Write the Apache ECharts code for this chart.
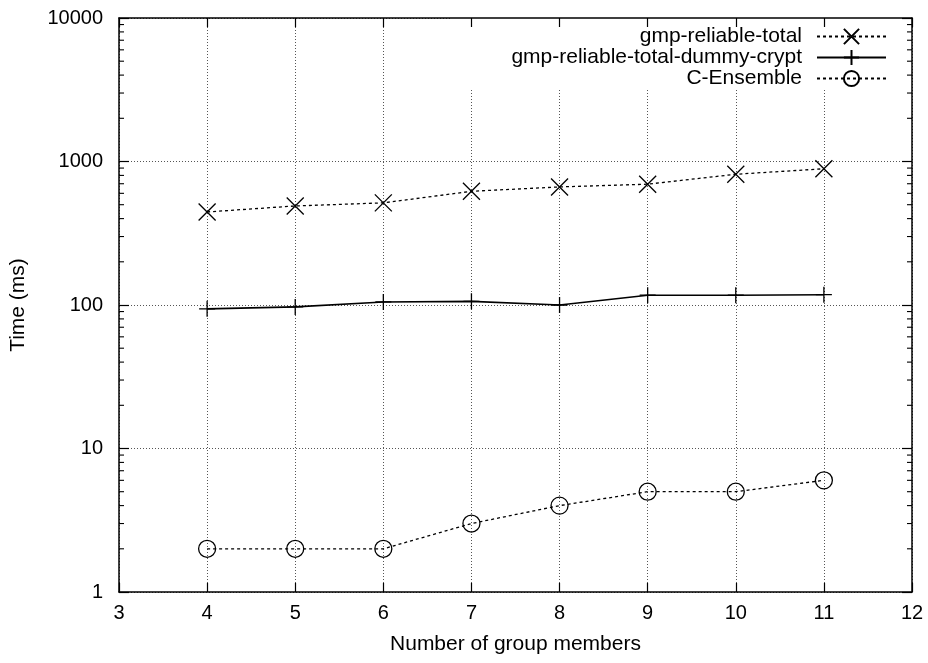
<!DOCTYPE html>
<html>
<head>
<meta charset="utf-8">
<script src="https://cdn.jsdelivr.net/npm/echarts@6/dist/echarts.min.js"></script>
<style>
  html, body { margin: 0; padding: 0; background: #fff; }
  #chart { width: 928px; height: 663px; }
</style>
</head>
<body>
<div id="chart"></div>
<script>
// Group size vs. time per protocol variant
const groupMembers = [4, 5, 6, 7, 8, 9, 10, 11];
const reliableTotal = [445, 490, 515, 620, 665, 695, 815, 890];
const reliableTotalDummyCrypt = [94, 97, 105, 106, 100, 117, 117, 118];
const cEnsemble = [2, 2, 2, 3, 4, 5, 5, 6];
const seriesNames = ['gmp-reliable-total', 'gmp-reliable-total-dummy-crypt', 'C-Ensemble'];
const xTicks = [3, 4, 5, 6, 7, 8, 9, 10, 11, 12];
const yDecades = [1, 10, 100, 1000, 10000];

const FONT = 'Liberation Sans, Arial, sans-serif';
const FS = 21;
const FS_TICK = 20;

// Minor log ticks (2..9 within each decade)
const minorTicks = [];
for (let d = 0; d < yDecades.length - 1; d++) {
  for (let m = 2; m <= 9; m++) minorTicks.push(yDecades[d] * m);
}

const pairs = (ys) => groupMembers.map((x, i) => [x, ys[i]]);

const crossPath = 'path://M0,0L10,10M10,0L0,10';
const plusPath = 'path://M5,0L5,10M0,5L10,5';

const gridLine = { show: true, lineStyle: { color: '#555', width: 1, type: [1, 2] } };

const chart = echarts.init(document.getElementById('chart'), null, { renderer: 'canvas' });
chart.setOption({
  animation: false,
  backgroundColor: '#fff',
  grid: { left: 119, right: 16, top: 18, bottom: 71 },
  legend: {
    orient: 'vertical',
    right: 23,
    top: 18,
    align: 'right',
    data: seriesNames,
    itemWidth: 69,
    itemHeight: 19,
    itemGap: 0,
    padding: [8, 18, 0, 61],
    backgroundColor: '#fff',
    z: 4,
    textStyle: { fontFamily: FONT, fontSize: FS, color: '#000', lineHeight: 21, padding: [0, 10, 0, 0] },
    inactiveColor: '#000'
  },
  xAxis: [
    {
      type: 'value', position: 'bottom', min: 3, max: 12, interval: 1,
      name: 'Number of group members', nameLocation: 'middle', nameGap: 42,
      nameTextStyle: { fontFamily: FONT, fontSize: FS, color: '#000' },
      axisLine: { show: true, lineStyle: { color: '#000', width: 1.5 } },
      axisTick: { show: true, inside: true, length: 9, lineStyle: { color: '#000', width: 1.2 } },
      axisLabel: { fontFamily: FONT, fontSize: FS_TICK, color: '#000', margin: 11,
        formatter: (v) => xTicks.includes(v) ? String(v) : '' },
      splitLine: gridLine,
      z: 0
    },
    {
      type: 'value', position: 'top', min: 3, max: 12, interval: 1,
      axisLine: { show: true, lineStyle: { color: '#000', width: 1.5 } },
      axisTick: { show: true, inside: true, length: 9, lineStyle: { color: '#000', width: 1.2 } },
      axisLabel: { show: false },
      splitLine: { show: false },
      z: 10
    }
  ],
  yAxis: [
    {
      type: 'log', logBase: 10, position: 'left', min: 1, max: 10000,
      name: 'Time (ms)', nameLocation: 'middle', nameGap: 90,
      nameTextStyle: { fontFamily: FONT, fontSize: FS, color: '#000' },
      axisLine: { show: true, lineStyle: { color: '#000', width: 1.5 } },
      axisTick: { show: true, inside: true, length: 10, lineStyle: { color: '#000', width: 1.2 } },
      axisLabel: { fontFamily: FONT, fontSize: FS_TICK, color: '#000', margin: 16,
        formatter: (v) => String(Math.round(v)) },
      splitLine: gridLine,
      z: 0
    },
    {
      type: 'log', logBase: 10, position: 'right', min: 1, max: 10000,
      axisLine: { show: true, lineStyle: { color: '#000', width: 1.5 } },
      axisTick: { show: true, inside: true, length: 10, lineStyle: { color: '#000', width: 1.2 } },
      axisLabel: { show: false },
      splitLine: { show: false },
      z: 10
    }
  ],
  series: [
    {
      name: seriesNames[0], type: 'line', xAxisIndex: 0, yAxisIndex: 0,
      data: pairs(reliableTotal),
      symbol: crossPath, symbolSize: 17, showAllSymbol: true,
      itemStyle: { color: 'rgba(0,0,0,0)', borderColor: '#000', borderWidth: 1.3 },
      lineStyle: { color: '#000', width: 1.3, type: [3, 3] },
      z: 3
    },
    {
      name: seriesNames[1], type: 'line', xAxisIndex: 0, yAxisIndex: 0,
      data: pairs(reliableTotalDummyCrypt),
      symbol: plusPath, symbolSize: 16, showAllSymbol: true,
      itemStyle: { color: 'rgba(0,0,0,0)', borderColor: '#000', borderWidth: 1.3 },
      lineStyle: { color: '#000', width: 1.6, type: 'solid' },
      z: 3
    },
    {
      name: seriesNames[2], type: 'line', xAxisIndex: 0, yAxisIndex: 0,
      data: pairs(cEnsemble),
      symbol: 'circle', symbolSize: 17, showAllSymbol: true,
      itemStyle: { color: 'rgba(0,0,0,0)', borderColor: '#000', borderWidth: 1.3 },
      lineStyle: { color: '#000', width: 1.3, type: [3, 3] },
      z: 3
    },
    {
      // minor ticks on the left and right log axes
      type: 'custom', xAxisIndex: 0, yAxisIndex: 0, silent: true, z: 12,
      clip: false,
      data: minorTicks.map((v) => [v]),
      renderItem: (params, api) => {
        const v = api.value(0);
        const l = api.coord([3, v]);
        const r = api.coord([12, v]);
        const style = { stroke: '#000', lineWidth: 1.1 };
        return {
          type: 'group',
          children: [
            { type: 'line', shape: { x1: l[0], y1: l[1], x2: l[0] + 5, y2: l[1] }, style },
            { type: 'line', shape: { x1: r[0], y1: r[1], x2: r[0] - 5, y2: r[1] }, style }
          ]
        };
      },
      encode: { y: 0 }
    }
  ]
});
</script>
</body>
</html>
